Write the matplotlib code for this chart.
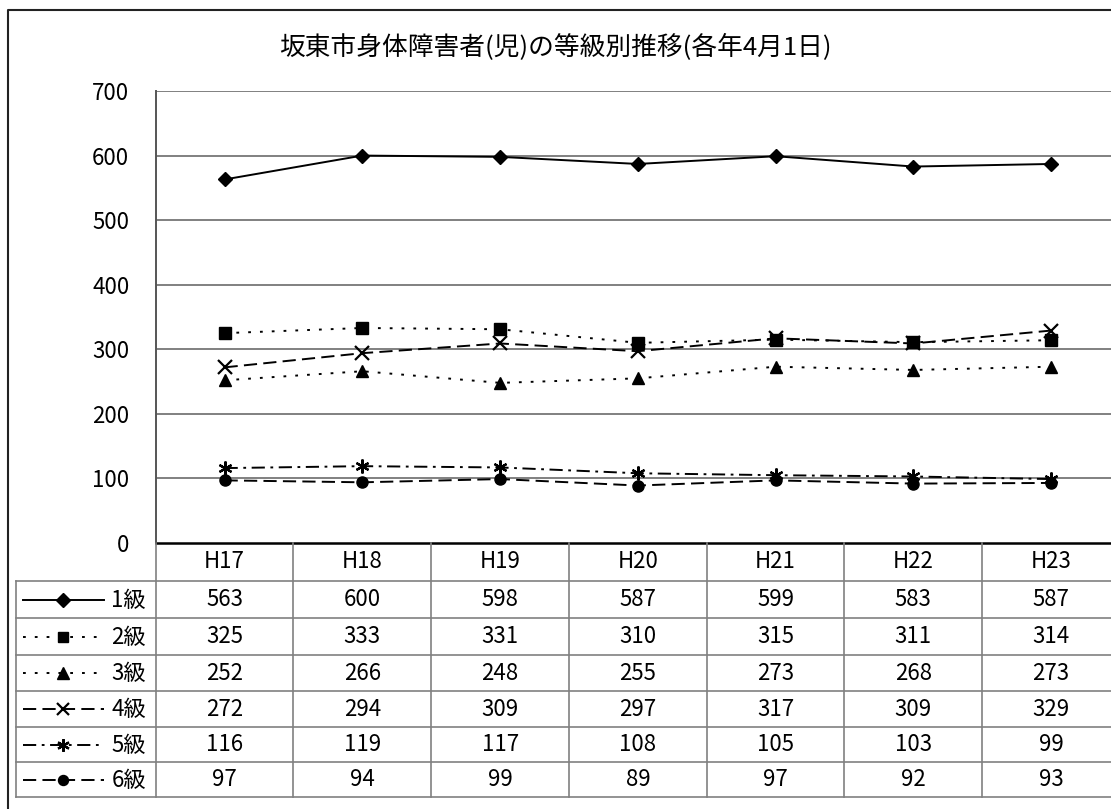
import matplotlib
matplotlib.use("Agg")
import matplotlib.pyplot as plt

plt.rcParams['font.family'] = ['Liberation Sans Narrow', 'Noto Sans CJK JP', 'DejaVu Sans']
plt.rcParams['lines.scale_dashes'] = False

# ---- data ----
title = "坂東市身体障害者(児)の等級別推移(各年4月1日)"
years = ["H17", "H18", "H19", "H20", "H21", "H22", "H23"]
grade_labels = ["1級", "2級", "3級", "4級", "5級", "6級"]
grade1 = [563, 600, 598, 587, 599, 583, 587]
grade2 = [325, 333, 331, 310, 315, 311, 314]
grade3 = [252, 266, 248, 255, 273, 268, 273]
grade4 = [272, 294, 309, 297, 317, 309, 329]
grade5 = [116, 119, 117, 108, 105, 103, 99]
grade6 = [97, 94, 99, 89, 97, 92, 93]
series = [grade1, grade2, grade3, grade4, grade5, grade6]
yticks = [0, 100, 200, 300, 400, 500, 600, 700]

# ---- styles ----
styles = [
    dict(linestyle='-', marker='D', ms=7.5),
    dict(linestyle=(0, (2, 6.5)), marker='s', ms=8),
    dict(linestyle=(0, (2, 6.5)), marker='^', ms=9),
    dict(linestyle=(0, (9.5, 4.5)), marker='x', ms=10, mew=1.6),
    dict(linestyle=(0, (9.5, 4, 2, 4)), marker=(6, 2, 0), ms=10, mew=1.6),
    dict(linestyle=(0, (9.5, 4.5)), marker='o', ms=8),
]

W, H = 1111, 809
fig = plt.figure(figsize=(W / 100, H / 100), dpi=100)

# pixel geometry
ax_left, ax_right = 155.7, 1120.0
ax_top, ax_bot = 91.0, 543.0
tbl_left = 16.0
row_edges = [543, 581, 618, 655, 691, 727, 762, 797]

FS = 16

ax = fig.add_axes([ax_left / W, (H - ax_bot) / H,
                   (ax_right - ax_left) / W, (ax_bot - ax_top) / H])
ax.set_xlim(-0.5, len(years) - 0.5)
ax.set_ylim(0, 700)
ax.set_yticks(yticks)
ax.set_yticklabels([str(v) for v in yticks], fontsize=FS)
ax.set_xticks([])
ax.tick_params(axis='y', length=0, pad=19)
for s in ['top', 'right']:
    ax.spines[s].set_visible(False)
ax.spines['left'].set_color('#555555')
ax.spines['left'].set_linewidth(1.4)
ax.spines['bottom'].set_color('black')
ax.spines['bottom'].set_linewidth(1.8)
ax.spines['bottom'].set_zorder(5)
for v in yticks[1:]:
    ax.axhline(v, color='#808080', lw=1.4, zorder=1)

xs = list(range(len(years)))
for vals, st in zip(series, styles):
    ax.plot(xs, vals, color='black', lw=1.4, zorder=3,
            linestyle=st['linestyle'], marker=st['marker'],
            markersize=st['ms'], markeredgewidth=st.get('mew', 1.0),
            markerfacecolor='black', markeredgecolor='black')

# ---- overlays in pixel coordinates for the data table and frame ----
ov = fig.add_axes([0, 0, 1, 1], zorder=-1)
ov.set_xlim(0, W)
ov.set_ylim(H, 0)
ov.axis('off')
ov.patch.set_alpha(0)

top_ov = fig.add_axes([0, 0, 1, 1], zorder=10)
top_ov.set_xlim(0, W)
top_ov.set_ylim(H, 0)
top_ov.axis('off')
top_ov.patch.set_alpha(0)

# outer chart frame
ov.plot([8, 8, W + 5], [H + 5, 10, 10], color='#222222', lw=1.5)

colw = (ax_right - ax_left) / len(years)
grid_c = '#808080'
for yy in row_edges[1:]:
    top_ov.plot([tbl_left, ax_right], [yy, yy], color=grid_c, lw=1.2)
top_ov.plot([tbl_left, tbl_left], [row_edges[1], row_edges[-1]], color=grid_c, lw=1.2)
top_ov.plot([ax_left, ax_left], [row_edges[0], row_edges[-1]], color=grid_c, lw=1.2)
for i in range(1, len(years) + 1):
    xx = ax_left + i * colw
    top_ov.plot([xx, xx], [row_edges[0], row_edges[-1]], color=grid_c, lw=1.2)

# header row
for i, yr in enumerate(years):
    cx = ax_left + (i + 0.5) * colw
    cy = (row_edges[0] + row_edges[1]) / 2
    top_ov.text(cx, cy, yr, ha='center', va='center', fontsize=FS)

# data rows with legend keys
for r, (lab, vals, st) in enumerate(zip(grade_labels, series, styles)):
    cy = (row_edges[r + 1] + row_edges[r + 2]) / 2
    for i, v in enumerate(vals):
        cx = ax_left + (i + 0.5) * colw
        top_ov.text(cx, cy, str(v), ha='center', va='center', fontsize=FS)
    top_ov.text(146, cy + 1, lab, ha='right', va='center', fontsize=16)
    top_ov.plot([23, 104], [cy, cy], color='black', lw=1.4,
                linestyle=st['linestyle'])
    top_ov.plot([63], [cy], color='black', linestyle='none',
                marker=st['marker'], markersize=st['ms'] * 0.9,
                markeredgewidth=st.get('mew', 1.0),
                markerfacecolor='black', markeredgecolor='black')

fig.text(555 / W, 1 - 47 / H, title, ha='center', va='center', fontsize=18.5)

fig.savefig("out.png", dpi=100)
